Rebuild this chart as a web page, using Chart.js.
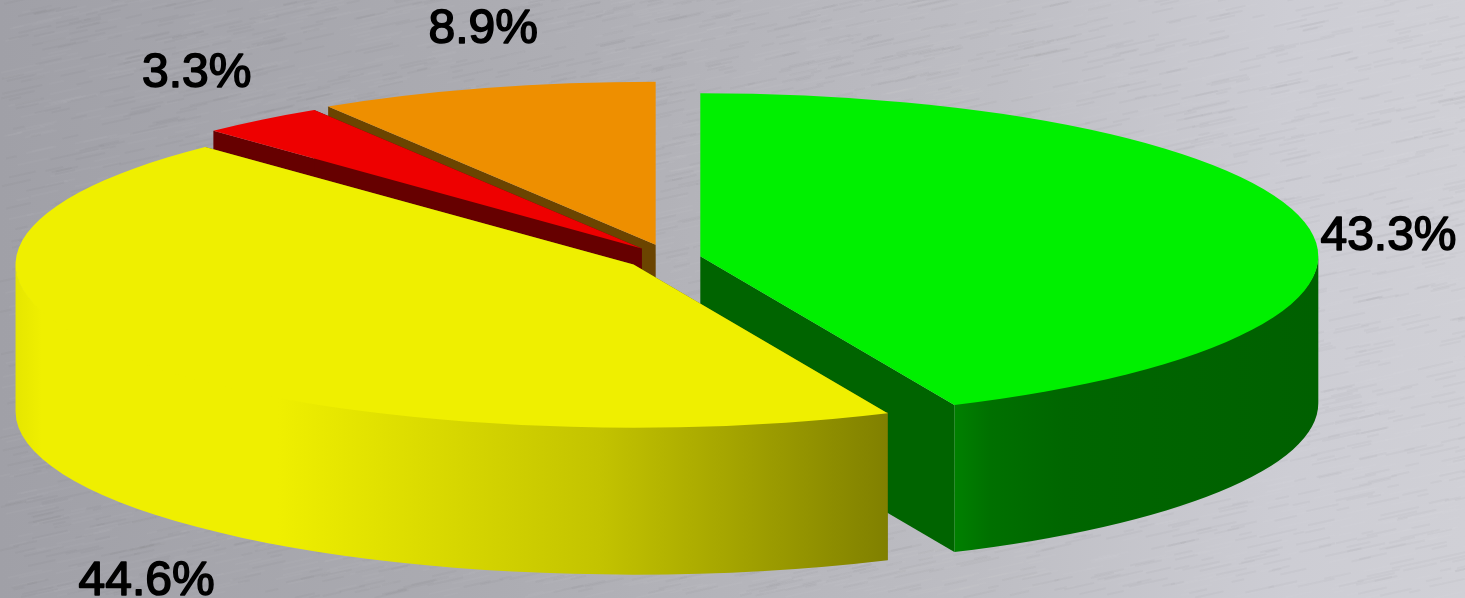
<!DOCTYPE html>
<html>
<head>
<meta charset="utf-8">
<title>Pie</title>
<script src="https://cdn.jsdelivr.net/npm/chart.js@4"></script>
<style>
  html, body { margin: 0; padding: 0; background: #b4b4ba; overflow: hidden; }
  #wrap { width: 1465px; height: 598px; position: relative; }
</style>
</head>
<body>
<div id="wrap"><canvas id="pieChart"></canvas></div>
<script>
// data
const labels = ['Green', 'Yellow', 'Red', 'Orange'];
const values = [43.3, 44.6, 3.3, 8.9];

// colours
const topColors = ['#00f000', '#efef00', '#ee0000', '#ee8f00'];
const wallColors = ['#006400', '#6b6b00', '#660000', '#6b4400'];
const sideStops = [
    [[0, '#008000'], [0.1, '#007000'], [0.3, '#006600'], [1, '#006000']],
    [[0, '#e6e600'], [0.03, '#efef00'], [0.3, '#efef00'], [0.67, '#c3c300'], [1, '#808000']],
    [[0, '#660000'], [1, '#660000']],
    [[0, '#6b4400'], [1, '#6b4400']]
];

// look of the 3d pie
const tilt = 0.264;
const depth = 147;
const explode = [31, 44, 46, 52];
const paintOrder = [3, 2, 0, 1];
// where each label sits relative to its slice rim
const labelNudge = [[84, 28], [25, 239], [-65, -33], [-2, -45]];

function sliceCenter(el, i) {
    const mid = (el.startAngle + el.endAngle) / 2;
    return { x: el.x + Math.cos(mid) * explode[i], y: el.y + Math.sin(mid) * explode[i] * tilt };
}

function drawWall(ctx, c, r, angle, color) {
    const ex = c.x + Math.cos(angle) * r;
    const ey = c.y + Math.sin(angle) * r * tilt;
    ctx.fillStyle = color;
    ctx.beginPath();
    ctx.moveTo(c.x, c.y);
    ctx.lineTo(ex, ey);
    ctx.lineTo(ex, ey + depth);
    ctx.lineTo(c.x, c.y + depth);
    ctx.closePath();
    ctx.fill();
}

function drawSide(ctx, c, r, el, stops) {
    const a = Math.max(el.startAngle, 0);
    const b = Math.min(el.endAngle, Math.PI);
    if (b <= a) return;
    const x0 = c.x + Math.cos(b) * r;
    const x1 = c.x + Math.cos(a) * r;
    const grad = ctx.createLinearGradient(Math.min(x0, x1), 0, Math.max(x0, x1), 0);
    stops.forEach(s => grad.addColorStop(s[0], s[1]));
    ctx.fillStyle = grad;
    ctx.beginPath();
    // top edge pulled up a pixel so no seam shows under the arc
    ctx.ellipse(c.x, c.y - 1, r, r * tilt, 0, a, b);
    ctx.ellipse(c.x, c.y + depth, r, r * tilt, 0, b, a, true);
    ctx.closePath();
    ctx.fill();
}

// brushed metal behind the chart
const metalPlugin = {
    id: 'metal',
    beforeDraw(chart) {
        const ctx = chart.ctx;
        const w = chart.width, h = chart.height;
        const bg = ctx.createLinearGradient(0, 0, w, 0);
        bg.addColorStop(0, '#a0a0a7');
        bg.addColorStop(0.34, '#acacb2');
        bg.addColorStop(0.68, '#bebec4');
        bg.addColorStop(0.88, '#cdcdd4');
        bg.addColorStop(1, '#d0d0d6');
        ctx.fillStyle = bg;
        ctx.fillRect(0, 0, w, h);
        // fine streaks, fixed seed so the picture is the same every run
        let seed = 7;
        const next = () => (seed = (seed * 16807) % 2147483647) / 2147483647;
        ctx.lineWidth = 2;
        for (let i = 0; i < 6000; i++) {
            const x = next() * w, y = next() * h, len = 10 + next() * 30;
            ctx.strokeStyle = next() > 0.5 ? 'rgba(255,255,255,0.03)' : 'rgba(60,60,70,0.03)';
            ctx.beginPath();
            ctx.moveTo(x, y);
            ctx.lineTo(x + len, y - len * 0.22);
            ctx.stroke();
        }
    }
};

// draws the extruded body, then the library's arcs squashed into ellipses
const pie3dPlugin = {
    id: 'pie3d',
    beforeDatasetDraw(chart) {
        const ctx = chart.ctx;
        const arcs = chart.getDatasetMeta(0).data;
        paintOrder.forEach(i => {
            const el = arcs[i];
            const c = sliceCenter(el, i);
            const r = el.outerRadius;
            drawWall(ctx, c, r, el.startAngle, wallColors[i]);
            drawWall(ctx, c, r, el.endAngle, wallColors[i]);
            drawSide(ctx, c, r, el, sideStops[i]);
        });
        paintOrder.forEach(i => {
            const el = arcs[i];
            const c = sliceCenter(el, i);
            ctx.save();
            ctx.translate(c.x, c.y);
            ctx.scale(1, tilt);
            ctx.translate(-el.x, -el.y);
            el.draw(ctx);
            ctx.restore();
        });
        return false;
    },
    afterDraw(chart) {
        const ctx = chart.ctx;
        ctx.save();
        ctx.fillStyle = '#000';
        ctx.strokeStyle = '#000';
        ctx.lineWidth = 1.6;
        ctx.lineJoin = 'round';
        ctx.font = '48px "Liberation Sans"';
        ctx.textAlign = 'center';
        ctx.textBaseline = 'alphabetic';
        chart.getDatasetMeta(0).data.forEach((el, i) => {
            const c = sliceCenter(el, i);
            const mid = (el.startAngle + el.endAngle) / 2;
            const ax = c.x + Math.cos(mid) * el.outerRadius;
            const ay = c.y + Math.sin(mid) * el.outerRadius * tilt;
            const text = values[i].toFixed(1) + '%';
            ctx.fillText(text, ax + labelNudge[i][0], ay + labelNudge[i][1]);
            ctx.strokeText(text, ax + labelNudge[i][0], ay + labelNudge[i][1]);
        });
        ctx.restore();
    }
};

new Chart(document.getElementById('pieChart').getContext('2d'), {
    type: 'pie',
    data: {
        labels: labels,
        datasets: [{
            data: values,
            backgroundColor: topColors,
            borderWidth: 0,
            clip: false
        }]
    },
    options: {
        responsive: true,
        maintainAspectRatio: false,
        animation: false,
        radius: 618,
        layout: { padding: { right: 125, bottom: 82 } },
        plugins: {
            legend: { display: false },
            tooltip: { enabled: false }
        }
    },
    plugins: [metalPlugin, pie3dPlugin]
});
</script>
</body>
</html>
